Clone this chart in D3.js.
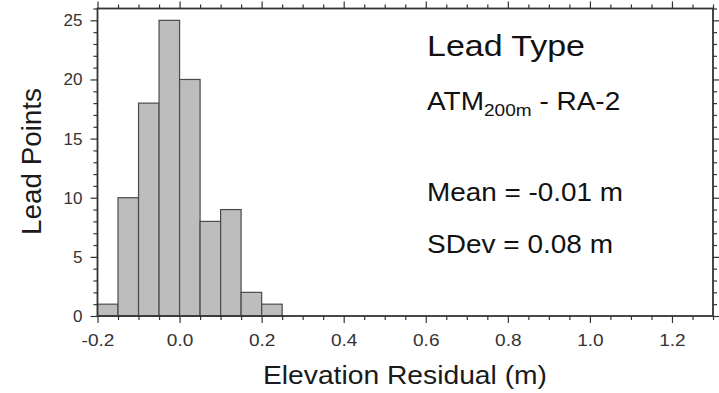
<!DOCTYPE html>
<html><head><meta charset="utf-8">
<script src="https://cdn.jsdelivr.net/npm/d3@7/dist/d3.min.js"></script>
<style>
body{margin:0;background:#fff;}
svg{display:block;font-family:"Liberation Sans",Arial,Helvetica,sans-serif;}
</style></head>
<body><svg id="c" width="719" height="393"></svg>
<script>
// data
const binStarts = [-0.2, -0.15, -0.1, -0.05, 0.0, 0.05, 0.1, 0.15, 0.2];
const counts = [1, 10, 18, 25, 20, 8, 9, 2, 1];
const binWidth = 0.05;
const xDomain = [-0.2, 1.3];
const yDomain = [0, 26];
const xMajorTicks = [-0.2, 0.0, 0.2, 0.4, 0.6, 0.8, 1.0, 1.2];
const xTickLabels = ["-0.2", "0.0", "0.2", "0.4", "0.6", "0.8", "1.0", "1.2"];
const yMajorTicks = [0, 5, 10, 15, 20, 25];
const yTickLabels = ["0", "5", "10", "15", "20", "25"];
const titleLines = ["Lead Type"];
const statLines = ["Mean = -0.01 m", "SDev = 0.08 m"];

const svg = d3.select("#c");
const L = 97.5, R = 713, T = 8.5, B = 316;
const x = d3.scaleLinear().domain(xDomain).range([L, R]);
const y = d3.scaleLinear().domain(yDomain).range([B, T]);
const STRETCH = 1.12;
function stretch(sel){ sel.each(function(){ const w=this.getComputedTextLength(); d3.select(this).attr("textLength", w*STRETCH).attr("lengthAdjust","spacingAndGlyphs"); }); }

// bars
svg.append("g").selectAll("rect").data(binStarts).join("rect")
  .attr("x", d => x(d)).attr("width", d => x(d + binWidth) - x(d))
  .attr("y", (d,i) => y(counts[i])).attr("height", (d,i) => y(0) - y(counts[i]))
  .attr("fill", "#bdbdbd").attr("stroke", "#4a4a4a").attr("stroke-width", 1.2);

// minor tick values
const xMinor = d3.range(0, 31).map(i => +(xDomain[0] + i*0.05).toFixed(2)).filter(v => !xMajorTicks.some(m => Math.abs(m-v)<1e-6));
const yMinor = d3.range(0, 27).filter(v => v%5 !== 0);

function styleAxis(g){ g.select(".domain").remove(); g.selectAll("line").attr("stroke","#333").attr("stroke-width",1.2); }

// bottom
const gb = svg.append("g").attr("transform",`translate(0,${B})`);
gb.call(d3.axisBottom(x).tickValues(xMajorTicks).tickSize(7).tickSizeOuter(0).tickPadding(11).tickFormat((d,i)=>xTickLabels[i])).call(styleAxis);
gb.selectAll("text").attr("font-size",17).attr("fill","#333").attr("font-family","Liberation Sans, Arial, sans-serif");
svg.append("g").attr("transform",`translate(0,${B})`).call(d3.axisBottom(x).tickValues(xMinor).tickSize(4).tickFormat("")).call(styleAxis);
// top
svg.append("g").attr("transform",`translate(0,${T})`).call(d3.axisTop(x).tickValues(xMajorTicks).tickSize(7).tickFormat("")).call(styleAxis);
svg.append("g").attr("transform",`translate(0,${T})`).call(d3.axisTop(x).tickValues(xMinor).tickSize(4).tickFormat("")).call(styleAxis);
// left
const gl = svg.append("g").attr("transform",`translate(${L},0)`);
gl.call(d3.axisLeft(y).tickValues(yMajorTicks).tickSize(7).tickPadding(8).tickFormat((d,i)=>yTickLabels[i])).call(styleAxis);
gl.selectAll("text").attr("font-size",17).attr("fill","#333").attr("font-family","Liberation Sans, Arial, sans-serif");
svg.append("g").attr("transform",`translate(${L},0)`).call(d3.axisLeft(y).tickValues(yMinor).tickSize(4).tickFormat("")).call(styleAxis);
// right
svg.append("g").attr("transform",`translate(${R},0)`).call(d3.axisRight(y).tickValues(yMajorTicks).tickSize(7).tickFormat("")).call(styleAxis);
svg.append("g").attr("transform",`translate(${R},0)`).call(d3.axisRight(y).tickValues(yMinor).tickSize(4).tickFormat("")).call(styleAxis);
stretch(gb.selectAll("text"));

// frame
svg.append("rect").attr("x",L).attr("y",T).attr("width",R-L).attr("height",B-T)
  .attr("fill","none").attr("stroke","#333").attr("stroke-width",1.8);

// axis titles
svg.append("text").attr("x",(263+547)/2).attr("y",384).attr("text-anchor","middle")
  .attr("font-size",26).attr("fill","#1a1a1a").attr("textLength",284).attr("lengthAdjust","spacingAndGlyphs")
  .text("Elevation Residual (m)");
svg.append("text").attr("transform","translate(41,161.5) rotate(-90)").attr("text-anchor","middle")
  .attr("font-size",27).attr("fill","#1a1a1a").attr("textLength",147).attr("lengthAdjust","spacingAndGlyphs")
  .text("Lead Points");

// annotation
const tx = 427;
svg.append("text").attr("x",tx).attr("y",56).attr("font-size",30).attr("fill","#111")
  .attr("textLength",158).attr("lengthAdjust","spacingAndGlyphs").text(titleLines[0]);
const atm = svg.append("text").attr("transform",`translate(${tx},109.5) scale(${STRETCH},1)`).attr("font-size",25).attr("fill","#111");
atm.append("tspan").text("ATM");
atm.append("tspan").attr("font-size",17).attr("dy",6).text("200m");
atm.append("tspan").attr("dy",-6).text(" - RA-2");
svg.append("text").attr("x",tx).attr("y",201).attr("font-size",25).attr("fill","#111")
  .attr("textLength",196).attr("lengthAdjust","spacingAndGlyphs").text(statLines[0]);
svg.append("text").attr("x",tx).attr("y",253).attr("font-size",25).attr("fill","#111")
  .attr("textLength",186).attr("lengthAdjust","spacingAndGlyphs").text(statLines[1]);
</script></body></html>
